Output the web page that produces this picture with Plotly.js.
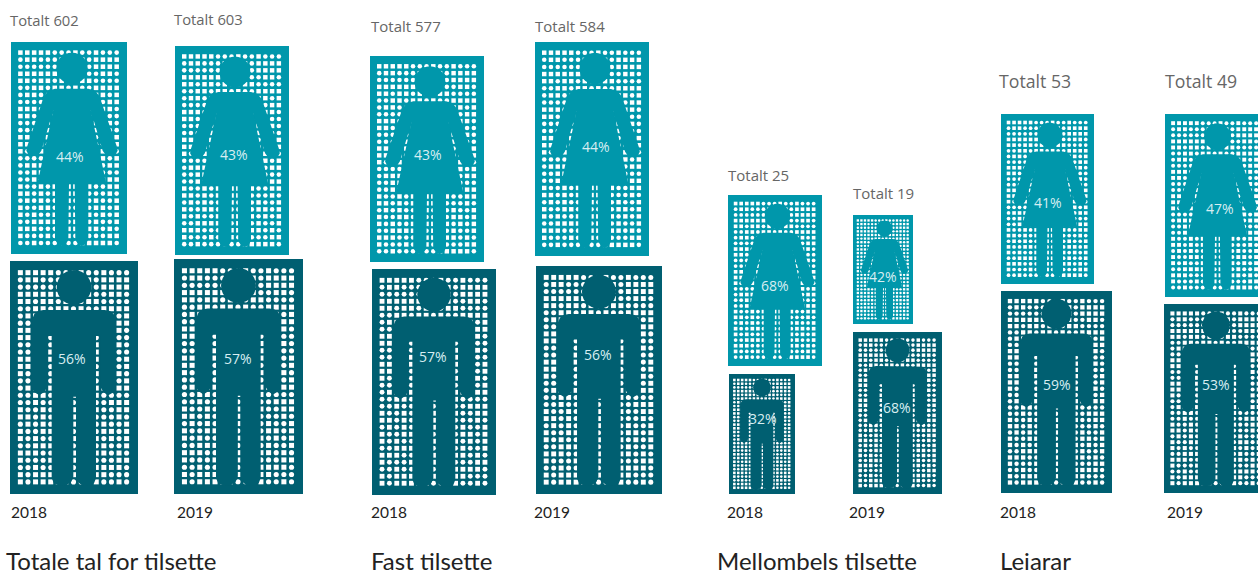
<!DOCTYPE html>
<html>
<head>
<meta charset="utf-8">
<script src="https://cdn.plot.ly/plotly-3.0.1.min.js"></script>
<style>html,body{margin:0;padding:0;background:#fff;overflow:hidden}</style>
</head>
<body>
<div id="chart" style="width:1258px;height:570px"></div>
<script>
// ---- chart values ----
var groups = ['Totale tal for tilsette', 'Fast tilsette', 'Mellombels tilsette', 'Leiarar'];
var years = ['2018', '2019', '2018', '2019', '2018', '2019', '2018', '2019'];
var totals = [602, 603, 577, 584, 25, 19, 53, 49];
var womenPct = [44, 43, 43, 44, 68, 42, 41, 47];
var menPct = [56, 57, 57, 56, 32, 68, 59, 53];

// ---- placement (left, right, top, bottom of each card) ----
var womenBox = [[11,127,42,254],[175,289,46,255],[370,484,56,262],[535,649,42,256],[728,822,195,366],[853,913,215,324],[1001,1094,114,284],[1165,1265,114,297]];
var menBox = [[10,138,261,494],[174,303,259,494],[372,496,269,495],[536,662,266,494],[729,795,374,494],[853,942,332,494],[1001,1112,291,493],[1164,1268,304,493]];
var womenPctPos = [[70,156],[234,154],[428,154],[596,146],[775,285],[883,276],[1048,202],[1220,208]];
var menPctPos = [[72,358],[238,358],[433,356],[598,354],[763,418],[897,407],[1057,384],[1216,384]];
var totalPos = [[10,20,14.8],[174,19,14.8],[371,26,15],[535,26,15],[728,175,15],[853,193,15],[999,81,17.7],[1165,81,17.7]];
var yearPos = [[11,512],[177,512],[371,512],[534,512],[727,512],[849,512],[1000,512],[1167,512]];
var groupPos = [[6,560],[371,560],[717,560],[1000,560]];

// ---- icon outlines, in the units of a 348x636 (woman) and 384x699 (man) card ----
var womanIcon = {w:348,h:636,x0:33,y0:126,rows:28,head:[216,205,47],
  body:[[165,266],[265,266],[285,272],[298,288],[350,438],[353,452],[347,463],[330,468],[318,466],[308,452],[272,330],[318,548],[265,548],[265,718],[258,732],[245,738],[236,734],[226,720],[224,548],[207,548],[205,720],[196,734],[186,738],[173,732],[165,718],[165,548],[113,548],[160,330],[124,452],[114,466],[102,468],[85,463],[79,452],[82,438],[132,288],[145,272]]};
var manIcon = {w:384,h:699,x0:30,y0:33,rows:30,head:[222,112,52],
  body:[[130,180],[314,180],[330,183],[341,192],[347,206],[348,224],[348,412],[342,426],[325,436],[310,426],[302,412],[302,258],[288,258],[288,685],[282,700],[268,707],[245,705],[232,695],[228,680],[228,440],[220,440],[220,680],[214,695],[200,705],[178,707],[162,700],[155,685],[155,258],[141,258],[141,412],[133,426],[118,436],[102,426],[95,412],[95,224],[97,206],[103,192],[114,183]]};
var dotPattern = ['sccsscsccscscsc','cscssccsccsccss','sscscsscsccssss','csscccsssccscsc','ccsscsccsccsscc','sccsscsssscsccs','scsscccsccsscsc'];

function iconPath(icon, box){
  var sx=(box[1]-box[0])/icon.w, sy=(box[3]-box[2])/icon.h, xs=[], ys=[];
  icon.body.forEach(function(p){xs.push(box[0]+(p[0]-icon.x0)*sx); ys.push(box[2]+(p[1]-icon.y0)*sy);});
  xs.push(xs[0],null); ys.push(ys[0],null);
  for(var a=0;a<=28;a++){
    var t=a/28*2*Math.PI;
    xs.push(box[0]+(icon.head[0]+icon.head[2]*Math.cos(t)-icon.x0)*sx);
    ys.push(box[2]+(icon.head[1]+icon.head[2]*Math.sin(t)-icon.y0)*sy);
  }
  xs.push(null); ys.push(null);
  return [xs,ys];
}
function dots(icon, box, out){
  var w=box[1]-box[0], h=box[3]-box[2];
  for(var r=0;r<icon.rows;r++){
    for(var c=0;c<15;c++){
      out.x.push(box[0]+w*(0.081+0.83*c/14));
      out.y.push(box[2]+h*(0.05+0.898*r/(icon.rows-1)));
      var row=dotPattern[(r+c*3)%dotPattern.length];
      var isSquare=row[(c+r*2)%15]==='s';
      out.symbol.push(isSquare?'square':'circle');
      out.size.push(w*(isSquare?0.039:0.04));
    }
  }
}
function cardTrace(boxes,color,name){
  return {type:'bar',name:name,hoverinfo:'skip',showlegend:false,
    x:boxes.map(function(b){return (b[0]+b[1])/2;}),
    width:boxes.map(function(b){return b[1]-b[0];}),
    base:boxes.map(function(b){return b[2];}),
    y:boxes.map(function(b){return b[3]-b[2];}),
    marker:{color:color,line:{width:0}}};
}
function iconTrace(icon,boxes,color,name){
  var xs=[],ys=[];
  boxes.forEach(function(b){var p=iconPath(icon,b); xs=xs.concat(p[0]); ys=ys.concat(p[1]);});
  return {type:'scatter',mode:'lines',name:name,x:xs,y:ys,fill:'toself',fillcolor:color,
    line:{width:0,color:color},hoverinfo:'skip',showlegend:false};
}
var WOMEN='#0097ab', MEN='#005f71';
var d={x:[],y:[],symbol:[],size:[]};
womenBox.forEach(function(b){dots(womanIcon,b,d);});
menBox.forEach(function(b){dots(manIcon,b,d);});
var dotTrace={type:'scatter',mode:'markers',x:d.x,y:d.y,hoverinfo:'skip',showlegend:false,
  marker:{color:'#ffffff',opacity:1,symbol:d.symbol,size:d.size,line:{width:0}}};

var traces=[cardTrace(womenBox,WOMEN,'Kvinner'),cardTrace(menBox,MEN,'Menn'),dotTrace,
  iconTrace(womanIcon,womenBox,WOMEN,'Kvinner'),iconTrace(manIcon,menBox,MEN,'Menn')];

function note(text,x,y,size,color,anchor,family){
  return {text:text,x:x,y:y,xref:'x',yref:'y',showarrow:false,xanchor:anchor,yanchor:'middle',
    font:{size:size,color:color,family:family},align:anchor,borderpad:0,borderwidth:0};
}
var notes=[];
var BODY='"Open Sans", sans-serif', HEAD='Lato, sans-serif';
totals.forEach(function(t,i){
  notes.push(note('Totalt '+t,totalPos[i][0],totalPos[i][1],totalPos[i][2],'#666666','left',BODY));
  notes.push(note(womenPct[i]+'%',womenPctPos[i][0],womenPctPos[i][1],14,'#d8eef2','center',BODY));
  notes.push(note(menPct[i]+'%',menPctPos[i][0],menPctPos[i][1],14,'#d8eef2','center',BODY));
  notes.push(note(years[i],yearPos[i][0],yearPos[i][1],15.5,'#222222','left',HEAD));
});
groups.forEach(function(g,i){
  notes.push(note(g,groupPos[i][0],groupPos[i][1],24,'#222222','left',HEAD));
});

Plotly.newPlot('chart',traces,{
  width:1258,height:570,margin:{l:0,r:0,t:0,b:0,pad:0},
  paper_bgcolor:'#ffffff',plot_bgcolor:'#ffffff',showlegend:false,barmode:'overlay',
  xaxis:{range:[0,1258],visible:false,fixedrange:true},
  yaxis:{range:[570,0],visible:false,fixedrange:true},
  annotations:notes
},{staticPlot:true,displayModeBar:false});
</script>
</body>
</html>
